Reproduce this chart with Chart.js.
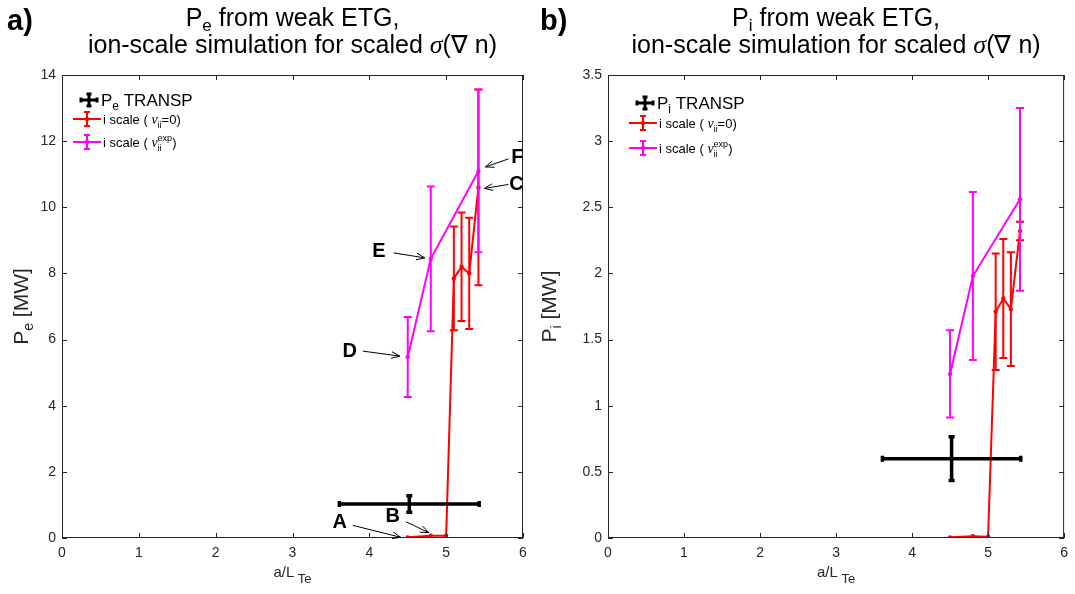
<!DOCTYPE html>
<html>
<head>
<meta charset="utf-8">
<script src="https://cdn.jsdelivr.net/npm/chart.js@4.4.0/dist/chart.umd.min.js"></script>
<style>
  html, body { margin: 0; padding: 0; background: #fff; }
  #wrap { position: relative; width: 1075px; height: 594px; overflow: hidden; }
  #ca { position: absolute; left: 0; top: 0; }
  #cb { position: absolute; left: 540px; top: 0; }
</style>
</head>
<body>
<div id="wrap">
  <canvas id="ca" width="540" height="594"></canvas>
  <canvas id="cb" width="535" height="594"></canvas>
</div>
<script>
// Normalised temperature gradient scan
const aLT = [4.5, 4.8, 5.0, 5.1, 5.2, 5.3, 5.42];
const aLTexp = [4.5, 4.8, 5.42];

// electron heat flux, MW
const peNu0 = [0.02, 0.07, 0.07, 7.85, 8.2, 8.0, 10.6];
const peNu0Err = [0, 0, 0, 1.57, 1.64, 1.68, 2.96];
const peNuExp = [5.47, 8.44, 11.1];
const peNuExpErr = [1.21, 2.19, 2.46];

// ion heat flux, MW
const piNu0 = [0.005, 0.013, 0.01, 1.71, 1.81, 1.73, 2.32];
const piNu0Err = [0, 0, 0, 0.44, 0.45, 0.43, 0.07];
const piNuExp = [1.24, 1.98, 2.56];
const piNuExpErr = [0.33, 0.635, 0.69];

// TRANSP reference with uncertainty
const transpALT = [4.52];
const transpALTErr = [0.91];
const peTransp = [1.03];
const peTranspErr = [0.25];
const piTransp = [0.6];
const piTranspErr = [0.165];

const xTicks = [0, 6, 1];

const SANS = '"Liberation Sans", Arial, Helvetica, sans-serif';
const SERIF = '"Liberation Serif", "Times New Roman", serif';
const AXIS = '#262626';
const RED = '#ff0000';
const MAG = '#ff00ff';

function pts(xs, ys) {
  return xs.map((x, i) => ({ x: x, y: ys[i] }));
}

// text made of pieces with their own font and vertical shift
function richWidth(ctx, parts) {
  let w = 0;
  parts.forEach(p => {
    ctx.font = p.f;
    if (p.sub !== undefined) {
      w += Math.max(ctx.measureText(p.sub).width, ctx.measureText(p.sup || '').width);
    } else {
      w += ctx.measureText(p.t).width;
    }
  });
  return w;
}
function drawRich(ctx, parts, x, y, align) {
  const w = richWidth(ctx, parts);
  let cx = align === 'center' ? x - w / 2 : (align === 'right' ? x - w : x);
  ctx.textAlign = 'left';
  ctx.textBaseline = 'alphabetic';
  parts.forEach(p => {
    ctx.font = p.f;
    if (p.sub !== undefined) {
      ctx.fillText(p.sub, cx, y + 4);
      if (p.sup) ctx.fillText(p.sup, cx, y - 6);
      cx += Math.max(ctx.measureText(p.sub).width, ctx.measureText(p.sup || '').width);
    } else {
      ctx.fillText(p.t, cx, y + (p.dy || 0));
      cx += ctx.measureText(p.t).width;
    }
  });
}

function errCross(ctx, x, y, hx, hy, color, lw, cap) {
  ctx.strokeStyle = color;
  ctx.lineWidth = lw;
  ctx.beginPath();
  if (hy) {
    ctx.moveTo(x, y - hy); ctx.lineTo(x, y + hy);
    ctx.moveTo(x - cap, y - hy); ctx.lineTo(x + cap, y - hy);
    ctx.moveTo(x - cap, y + hy); ctx.lineTo(x + cap, y + hy);
  }
  if (hx) {
    ctx.moveTo(x - hx, y); ctx.lineTo(x + hx, y);
    ctx.moveTo(x - hx, y - cap); ctx.lineTo(x - hx, y + cap);
    ctx.moveTo(x + hx, y - cap); ctx.lineTo(x + hx, y + cap);
  }
  ctx.stroke();
}

function arrow(ctx, x1, y1, x2, y2) {
  const a = Math.atan2(y2 - y1, x2 - x1);
  const L = 9, w = 0.38;
  ctx.strokeStyle = '#000';
  ctx.lineWidth = 1;
  ctx.beginPath();
  ctx.moveTo(x1, y1); ctx.lineTo(x2, y2);
  ctx.moveTo(x2 - L * Math.cos(a - w), y2 - L * Math.sin(a - w));
  ctx.lineTo(x2, y2);
  ctx.lineTo(x2 - L * Math.cos(a + w), y2 - L * Math.sin(a + w));
  ctx.stroke();
}

// error bars, box, inward ticks, titles, legend and labels
const decorations = {
  id: 'decorations',
  afterDatasetsDraw(chart) {
    const ctx = chart.ctx;
    const xs = chart.scales.x, ys = chart.scales.y;
    chart.data.datasets.forEach(ds => {
      ds.data.forEach((p, i) => {
        const px = xs.getPixelForValue(p.x);
        const py = ys.getPixelForValue(p.y);
        const ey = ds.errY ? ds.errY[i] : 0;
        const ex = ds.errX ? ds.errX[i] : 0;
        const hy = ey ? py - ys.getPixelForValue(p.y + ey) : 0;
        const hx = ex ? xs.getPixelForValue(p.x + ex) - px : 0;
        if (hy || hx) errCross(ctx, px, py, hx, hy, ds.borderColor, ds.barWidth || 2, ds.cap || 4);
      });
    });
  },
  afterDraw(chart, args, o) {
    const ctx = chart.ctx;
    const a = chart.chartArea;
    const xs = chart.scales.x, ys = chart.scales.y;
    ctx.save();
    // box
    ctx.strokeStyle = AXIS;
    ctx.lineWidth = 1;
    ctx.strokeRect(a.left + 0.5, a.top + 0.5, a.right - a.left - 1, a.bottom - a.top - 1);
    ctx.beginPath();
    xs.ticks.forEach(t => {
      const x = Math.round(xs.getPixelForValue(t.value)) + 0.5;
      ctx.moveTo(x, a.bottom); ctx.lineTo(x, a.bottom - 5);
      ctx.moveTo(x, a.top); ctx.lineTo(x, a.top + 5);
    });
    ys.ticks.forEach(t => {
      const y = Math.round(ys.getPixelForValue(t.value)) + 0.5;
      ctx.moveTo(a.left, y); ctx.lineTo(a.left + 5, y);
      ctx.moveTo(a.right, y); ctx.lineTo(a.right - 5, y);
    });
    ctx.stroke();

    const cx = (a.left + a.right) / 2;
    const cy = (a.top + a.bottom) / 2;
    ctx.fillStyle = '#000';

    // panel letter
    ctx.font = `bold 29px ${SANS}`;
    ctx.textAlign = 'left';
    ctx.textBaseline = 'alphabetic';
    ctx.fillText(o.letter, o.letterX, 30);

    // title
    drawRich(ctx, [
      { t: 'P', f: `25px ${SANS}` },
      { t: o.sub, f: `17px ${SANS}`, dy: 5 },
      { t: ' from weak ETG,', f: `25px ${SANS}` }
    ], cx, 26, 'center');
    drawRich(ctx, [
      { t: 'ion-scale simulation for scaled ', f: `25px ${SANS}` },
      { t: 'σ', f: `italic 26px ${SERIF}` },
      { t: '(∇', f: `25px ${SANS}` },
      { t: ' n)', f: `25px ${SANS}` }
    ], cx, 53, 'center');

    // axis labels
    ctx.fillStyle = AXIS;
    drawRich(ctx, [
      { t: 'a/L', f: `15px ${SANS}` },
      { t: ' Te', f: `13px ${SANS}`, dy: 6 }
    ], cx, 577, 'center');
    ctx.save();
    ctx.translate(o.yLabelX, cy);
    ctx.rotate(-Math.PI / 2);
    drawRich(ctx, [
      { t: 'P', f: `21px ${SANS}` },
      { t: o.sub, f: `14px ${SANS}`, dy: 5 },
      { t: ' [MW]', f: `21px ${SANS}` }
    ], 0, 0, 'center');
    ctx.restore();

    // legend
    const L = o.legend;
    ctx.fillStyle = '#000';
    errCross(ctx, L.x + 16, L.y0, 8, 6, '#000', 3, 2.5);
    drawRich(ctx, [
      { t: 'P', f: `17px ${SANS}` },
      { t: o.sub, f: `12px ${SANS}`, dy: 4 },
      { t: ' TRANSP', f: `17px ${SANS}` }
    ], L.x + 28, L.y0 + 6, 'left');
    [[RED, L.y1, '=0)'], [MAG, L.y2, null]].forEach(([col, y, tail]) => {
      ctx.strokeStyle = col;
      ctx.lineWidth = 2;
      ctx.beginPath();
      ctx.moveTo(L.x, y); ctx.lineTo(L.x + 28, y);
      ctx.stroke();
      errCross(ctx, L.x + 14, y, 0, 7, col, 2, 3);
      ctx.fillStyle = col;
      ctx.beginPath(); ctx.arc(L.x + 14, y, 2.2, 0, Math.PI * 2); ctx.fill();
      ctx.fillStyle = '#000';
      const parts = [
        { t: 'i scale ( ', f: `13px ${SANS}` },
        { t: 'ν', f: `italic 14px ${SERIF}` },
        tail ? { sub: 'ii', f: `9px ${SANS}` } : { sub: 'ii', sup: 'exp', f: `9px ${SANS}` },
        { t: tail || ')', f: `13px ${SANS}` }
      ];
      drawRich(ctx, parts, L.x + 30, y + 5, 'left');
    });

    // point labels with arrows
    (o.notes || []).forEach(n => {
      const p = chart.data.datasets[n.ds].data[n.i];
      const px = xs.getPixelForValue(p.x), py = ys.getPixelForValue(p.y);
      arrow(ctx, px + n.tail[0], py + n.tail[1], px + n.tip[0], py + n.tip[1]);
      ctx.fillStyle = '#000';
      ctx.font = `bold 20px ${SANS}`;
      ctx.textAlign = 'center';
      ctx.textBaseline = 'middle';
      ctx.fillText(n.label, px + n.text[0], py + n.text[1]);
    });
    ctx.restore();
  }
};

function makePanel(id, cfg) {
  return new Chart(document.getElementById(id), {
    type: 'line',
    data: {
      datasets: [
        {
          data: pts(aLT, cfg.nu0), errY: cfg.nu0Err,
          borderColor: RED, backgroundColor: RED, borderWidth: 2,
          pointRadius: 2.2, pointBackgroundColor: RED, pointBorderWidth: 0, tension: 0
        },
        {
          data: pts(aLTexp, cfg.nuExp), errY: cfg.nuExpErr,
          borderColor: MAG, backgroundColor: MAG, borderWidth: 2,
          pointRadius: 2.2, pointBackgroundColor: MAG, pointBorderWidth: 0, tension: 0
        },
        {
          data: pts(transpALT, cfg.transp), errY: cfg.transpErr, errX: transpALTErr,
          borderColor: '#000', showLine: false, pointRadius: 0,
          barWidth: 3.5, cap: 3
        }
      ]
    },
    options: {
      responsive: false,
      animation: false,
      layout: { padding: { left: 0, top: 75, right: cfg.padRight, bottom: 0 } },
      plugins: { legend: { display: false }, tooltip: { enabled: false }, decorations: cfg.deco },
      scales: {
        x: {
          type: 'linear', min: xTicks[0], max: xTicks[1],
          ticks: { stepSize: xTicks[2], padding: 7, color: AXIS, font: { family: SANS, size: 14 } },
          grid: { display: false, drawTicks: false },
          border: { display: false },
          afterFit(s) { s.height = 56; }
        },
        y: {
          type: 'linear', min: 0, max: cfg.yMax,
          ticks: {
            stepSize: cfg.yStep, padding: 6, color: AXIS, font: { family: SANS, size: 14 },
            callback: v => String(v)
          },
          grid: { display: false, drawTicks: false },
          border: { display: false },
          afterFit(s) { s.width = cfg.plotLeft; }
        }
      }
    },
    plugins: [decorations]
  });
}

makePanel('ca', {
  nu0: peNu0, nu0Err: peNu0Err, nuExp: peNuExp, nuExpErr: peNuExpErr,
  transp: peTransp, transpErr: peTranspErr,
  yMax: 14, yStep: 2, plotLeft: 62, padRight: 17,
  deco: {
    letter: 'a)', letterX: 7, sub: 'e', yLabelX: 28,
    legend: { x: 73, y0: 100, y1: 119, y2: 142 },
    notes: [
      { label: 'A', ds: 0, i: 0, text: [-68, -15], tail: [-55, -12], tip: [-7, 0] },
      { label: 'B', ds: 0, i: 1, text: [-38, -19], tail: [-25, -14], tip: [-2, -3] },
      { label: 'C', ds: 0, i: 6, text: [38, -3], tail: [30, -3], tip: [6, 1] },
      { label: 'D', ds: 1, i: 0, text: [-58, -6], tail: [-45, -6], tip: [-8, -1] },
      { label: 'E', ds: 1, i: 1, text: [-52, -7], tail: [-37, -6], tip: [-6, -1] },
      { label: 'F', ds: 1, i: 2, text: [39, -13], tail: [30, -12], tip: [7, -4] }
    ]
  }
});

makePanel('cb', {
  nu0: piNu0, nu0Err: piNu0Err, nuExp: piNuExp, nuExpErr: piNuExpErr,
  transp: piTransp, transpErr: piTranspErr,
  yMax: 3.5, yStep: 0.5, plotLeft: 68, padRight: 6,
  deco: {
    letter: 'b)', letterX: 0, sub: 'i', yLabelX: 16,
    legend: { x: 89, y0: 103, y1: 123, y2: 148 }
  }
});
</script>
</body>
</html>
